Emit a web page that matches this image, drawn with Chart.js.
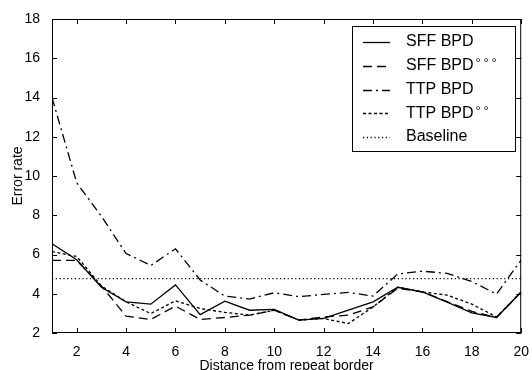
<!DOCTYPE html>
<html>
<head>
<meta charset="utf-8">
<script src="https://cdn.jsdelivr.net/npm/chart.js@4"></script>
<style>
  html, body { margin: 0; padding: 0; background: #fff; }
  #wrap { width: 532px; height: 370px; }
</style>
</head>
<body>
<div id="wrap"><canvas id="c" width="532" height="370"></canvas></div>
<script>
const distances = [1, 2, 3, 4, 5, 6, 7, 8, 9, 10, 11, 12, 13, 14, 15, 16, 17, 18, 19, 20];
const sffBpd   = [6.55, 5.73, 4.33, 3.59, 3.47, 4.45, 2.94, 3.62, 3.16, 3.2, 2.66, 2.74, 3.16, 3.59, 4.33, 4.09, 3.57, 3.03, 2.79, 4.09];
const sffBpd3  = [5.7, 5.7, 4.4, 2.86, 2.69, 3.37, 2.69, 2.79, 2.91, 3.16, 2.66, 2.82, 2.91, 3.33, 4.28, 4.09, 3.6, 3.1, 2.79, 4.09];
const ttpBpd   = [14.0, 9.66, 7.95, 6.05, 5.44, 6.29, 4.7, 3.88, 3.73, 4.05, 3.85, 3.97, 4.07, 3.88, 5.01, 5.15, 5.04, 4.62, 3.98, 5.73];
const ttpBpd2  = [6.15, 5.9, 4.4, 3.59, 2.99, 3.64, 3.25, 3.05, 2.91, 3.16, 2.66, 2.74, 2.48, 3.33, 4.33, 4.09, 3.93, 3.47, 2.82, 4.09];
const baseline = [4.77, 4.77];
const baselineX = [1, 20];
const xTicks = [2, 4, 6, 8, 10, 12, 14, 16, 18, 20];
const yTicks = [2, 4, 6, 8, 10, 12, 14, 16, 18];

const FONT = '"Liberation Sans", Arial, sans-serif';

const pts = (xs, ys) => xs.map((x, i) => ({ x: x, y: ys[i] }));

const series = [
  { label: 'SFF BPD', sup: '', data: pts(distances, sffBpd), dash: [] },
  { label: 'SFF BPD', sup: '\u00b0\u00b0\u00b0', data: pts(distances, sffBpd3), dash: [9, 5] },
  { label: 'TTP BPD', sup: '', data: pts(distances, ttpBpd), dash: [9, 4, 2, 4] },
  { label: 'TTP BPD', sup: '\u00b0\u00b0', data: pts(distances, ttpBpd2), dash: [3, 2.5] },
  { label: 'Baseline', sup: '', data: pts(baselineX, baseline), dash: [1.2, 2.6] }
];

// inward ticks, frame and legend box
const framePlugin = {
  id: 'frame',
  afterDraw(chart) {
    const ctx = chart.ctx;
    const a = chart.chartArea;
    const xs = chart.scales.x, ys = chart.scales.y;
    ctx.save();
    ctx.strokeStyle = '#000';
    ctx.lineWidth = 1;
    ctx.setLineDash([]);
    ctx.strokeRect(a.left + 0.5, a.top + 0.5, a.right - a.left - 1, a.bottom - a.top - 1);
    ctx.beginPath();
    xTicks.forEach(v => {
      const px = Math.round(xs.getPixelForValue(v)) + 0.5;
      ctx.moveTo(px, a.bottom); ctx.lineTo(px, a.bottom - 5);
      ctx.moveTo(px, a.top); ctx.lineTo(px, a.top + 5);
    });
    yTicks.forEach(v => {
      const py = Math.round(ys.getPixelForValue(v)) + 0.5;
      ctx.moveTo(a.left, py); ctx.lineTo(a.left + 5, py);
      ctx.moveTo(a.right, py); ctx.lineTo(a.right - 5, py);
    });
    ctx.stroke();

    // legend
    const bx = 352.5, by = 26.5, bw = 163, bh = 125;
    ctx.fillStyle = '#fff';
    ctx.fillRect(bx, by, bw, bh);
    ctx.strokeRect(bx, by, bw, bh);
    ctx.textBaseline = 'middle';
    ctx.textAlign = 'left';
    series.forEach((s, i) => {
      const y = 42 + i * 23.75;
      ctx.beginPath();
      ctx.setLineDash(s.dash);
      ctx.lineWidth = 1.3;
      ctx.moveTo(363, Math.round(y) + 0.5);
      ctx.lineTo(390, Math.round(y) + 0.5);
      ctx.stroke();
      ctx.setLineDash([]);
      ctx.fillStyle = '#000';
      ctx.font = '16px ' + FONT;
      ctx.fillText(s.label, 406, y);
      if (s.sup) {
        const w = ctx.measureText(s.label).width;
        ctx.font = '13px ' + FONT;
        for (let k = 0; k < s.sup.length; k++) {
          ctx.fillText(s.sup[k], 406 + w + 2 + k * 8, y - 2);
        }
      }
    });
    ctx.restore();
  }
};

new Chart(document.getElementById('c'), {
  type: 'line',
  data: {
    datasets: series.map(s => ({
      label: s.label + s.sup,
      data: s.data,
      borderColor: '#000',
      borderWidth: 1.3,
      borderDash: s.dash,
      pointRadius: 0,
      tension: 0,
      fill: false
    }))
  },
  options: {
    responsive: false,
    animation: false,
    layout: { padding: { top: 19, right: 10, left: 0, bottom: 0 } },
    plugins: { legend: { display: false }, tooltip: { enabled: false } },
    scales: {
      x: {
        type: 'linear',
        min: 1, max: 20,
        afterBuildTicks: sc => { sc.ticks = xTicks.map(v => ({ value: v })); },
        afterFit: sc => { sc.height = 37; },
        grid: { display: false },
        border: { display: false },
        ticks: { color: '#000', font: { family: FONT, size: 14 }, padding: 3, maxRotation: 0 },
        title: { display: true, text: 'Distance from repeat border', color: '#000', font: { family: FONT, size: 14, lineHeight: 1 }, padding: { top: 0, bottom: -3 } }
      },
      y: {
        min: 2, max: 18,
        afterBuildTicks: sc => { sc.ticks = yTicks.map(v => ({ value: v })); },
        afterFit: sc => { sc.width = 52; },
        grid: { display: false },
        border: { display: false },
        ticks: { color: '#000', font: { family: FONT, size: 14 }, padding: 4 },
        title: { display: true, text: 'Error rate', color: '#000', font: { family: FONT, size: 14, lineHeight: 1 }, padding: { top: 11, bottom: 0 } }
      }
    }
  },
  plugins: [framePlugin]
});
</script>
</body>
</html>
